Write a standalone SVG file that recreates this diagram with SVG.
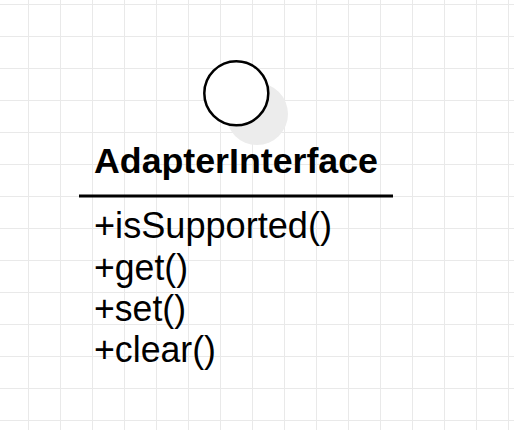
<svg xmlns="http://www.w3.org/2000/svg" width="514" height="430" viewBox="0 0 514 430">
  <defs>
    <pattern id="grid" x="28" y="4" width="32" height="32" patternUnits="userSpaceOnUse">
      <path d="M0.5 0 V32 M0 0.5 H32" fill="none" stroke="#e9e9e9" stroke-width="1"/>
    </pattern>
    <filter id="soft" x="-30%" y="-30%" width="160%" height="160%">
      <feGaussianBlur stdDeviation="0.6"/>
    </filter>
  </defs>
  <style>
    .title { font-family: "Liberation Sans", Arial, sans-serif; font-weight: bold; font-size: 34.5px; fill: #000; }
    .member { font-family: "Liberation Sans", Arial, sans-serif; font-size: 37px; fill: #000; }
    .outline { fill: #fff; stroke: #000; stroke-width: 2.5; }
    .shadow { fill: #ececec; }
    .divider { stroke: #000; stroke-width: 2.8; }
  </style>
  <rect width="514" height="430" fill="#fff"/>
  <rect width="514" height="430" fill="url(#grid)"/>
  <g id="connectors"/>
  <g id="adapter-interface">
    <circle class="shadow" cx="257" cy="114" r="31" filter="url(#soft)"/>
    <circle class="outline" cx="236.3" cy="93.3" r="32"/>
    <text class="title" x="94" y="172.5" textLength="284" lengthAdjust="spacingAndGlyphs">AdapterInterface</text>
    <line class="divider" x1="79" y1="196" x2="393" y2="196"/>
    <text class="member" x="94" y="238" textLength="238" lengthAdjust="spacingAndGlyphs">+isSupported()</text>
    <text class="member" x="94" y="279.5" textLength="94" lengthAdjust="spacingAndGlyphs">+get()</text>
    <text class="member" x="94" y="320.5" textLength="92" lengthAdjust="spacingAndGlyphs">+set()</text>
    <text class="member" x="94" y="361.5" textLength="122" lengthAdjust="spacingAndGlyphs">+clear()</text>
  </g>
</svg>
